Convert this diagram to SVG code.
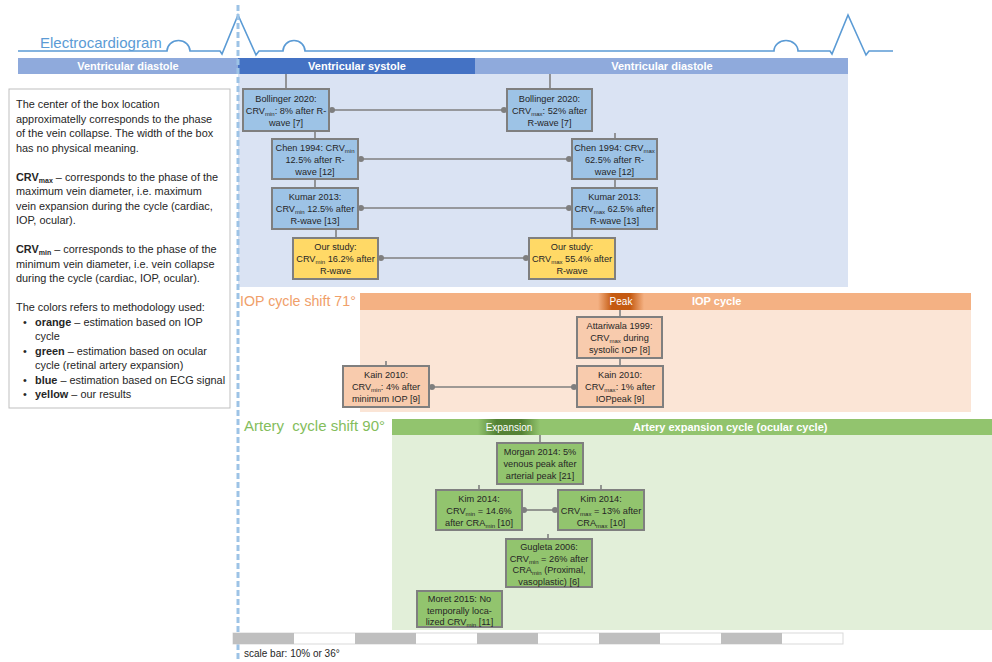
<svg xmlns="http://www.w3.org/2000/svg" width="992" height="662" viewBox="0 0 992 662">
<style>
text{font-family:"Liberation Sans",Arial,sans-serif;fill:#262626}
.bt{font-size:9.2px;text-anchor:middle}
.sub{font-size:6px}
.lt{font-size:10.9px}
.lsub{font-size:7px}
.bar{font-size:11px;font-weight:bold;fill:#fff;text-anchor:middle}
.box{stroke:#7f7f7f;stroke-width:2}
.blue{fill:#9dc3e6}.yel{fill:#ffd966}.ora{fill:#f8cbad}.grn{fill:#92c46e}
.con{stroke:#7f7f7f;stroke-width:1.6;fill:none}
.dot{fill:#7f7f7f}
</style>
<defs>
<linearGradient id="gPeak" x1="0" x2="1" y1="0" y2="0">
<stop offset="0" stop-color="#f4b183"/><stop offset="0.3" stop-color="#c55a11"/><stop offset="0.7" stop-color="#c55a11"/><stop offset="1" stop-color="#f4b183"/>
</linearGradient>
<linearGradient id="gExp" x1="0" x2="1" y1="0" y2="0">
<stop offset="0" stop-color="#92c46e"/><stop offset="0.3" stop-color="#548235"/><stop offset="0.7" stop-color="#548235"/><stop offset="1" stop-color="#92c46e"/>
</linearGradient>
</defs>
<rect width="992" height="662" fill="#fff"/>

<!-- ECG -->
<g id="ecg">
<path d="M18,51 L167,51 A11.5,10.5 0 0 1 190,51 L220,51 L222,54 L238,15 L256,55 L259,51 L283,51 A11,10.5 0 0 1 305,51 L774,51 A12,10.5 0 0 1 798,51 L830,51 L832,54 L848,15 L866,55 L869,51 L893,51" fill="none" stroke="#5b9bd5" stroke-width="1.6"/>
<text x="40" y="48" style="font-size:15px;fill:#5b9bd5">Electrocardiogram</text>
</g>

<!-- backgrounds -->
<g id="regions">
<rect x="238" y="74" width="610" height="213" fill="#dae3f3"/>
<rect x="360" y="310" width="611" height="102" fill="#fbe5d6"/>
<rect x="392" y="435" width="600" height="195" fill="#e2efd9"/>
</g>

<!-- bars -->
<g id="ecg-bars">
<rect x="18" y="58" width="220" height="16" fill="#8faadc"/>
<text class="bar" x="128" y="70">Ventricular diastole</text>
<rect x="238" y="58" width="237" height="16" fill="#4472c4"/>
<text class="bar" x="357" y="70">Ventricular systole</text>
<rect x="475" y="58" width="373" height="16" fill="#8faadc"/>
<text class="bar" x="662" y="70">Ventricular diastole</text>
</g>

<g id="iop-header">
<rect x="360" y="293" width="611" height="17" fill="#f4b183"/>
<rect x="598" y="293" width="46" height="17" fill="url(#gPeak)"/>
<text x="621" y="305" style="font-size:10px;fill:#fff;text-anchor:middle">Peak</text>
<text x="692" y="305" style="font-size:11px;font-weight:bold;fill:#fff">IOP cycle</text>
<text x="240" y="306" style="font-size:14.2px;fill:#f0a06a">IOP cycle shift 71°</text>
</g>

<g id="artery-header">
<text x="244" y="431" xml:space="preserve" style="font-size:15px;fill:#84bd5c">Artery  cycle shift 90°</text>
<rect x="392" y="419" width="600" height="16" fill="#92c46e"/>
<rect x="478" y="419" width="62" height="16" fill="url(#gExp)"/>
<text x="509" y="431" style="font-size:10px;fill:#fff;text-anchor:middle">Expansion</text>
<text x="633" y="431" style="font-size:11px;font-weight:bold;fill:#fff">Artery expansion cycle (ocular cycle)</text>
</g>

<!-- dashed R-wave line -->
<line x1="238" y1="5" x2="238" y2="662" stroke="#9dc3e6" stroke-width="3" stroke-dasharray="6 3"/>

<!-- legend box -->
<g id="legend">
<rect x="9" y="89" width="221" height="319" fill="#fff" stroke="#bfbfbf" stroke-width="1"/>
<text class="lt" x="16" y="108">The center of the box location</text>
<text class="lt" x="16" y="122.5">approximatelly corresponds to the phase</text>
<text class="lt" x="16" y="137">of the vein collapse. The width of the box</text>
<text class="lt" x="16" y="151.5">has no physical meaning.</text>
<text class="lt" x="16" y="180.5"><tspan font-weight="bold">CRV<tspan class="lsub" dy="2">max</tspan></tspan><tspan dy="-2"> – corresponds to the phase of the</tspan></text>
<text class="lt" x="16" y="195">maximum vein diameter, i.e. maximum</text>
<text class="lt" x="16" y="209.5">vein expansion during the cycle (cardiac,</text>
<text class="lt" x="16" y="224">IOP, ocular).</text>
<text class="lt" x="16" y="253"><tspan font-weight="bold">CRV<tspan class="lsub" dy="2">min</tspan></tspan><tspan dy="-2"> – corresponds to the phase of the</tspan></text>
<text class="lt" x="16" y="267.5">minimum vein diameter, i.e. vein collapse</text>
<text class="lt" x="16" y="282">during the cycle (cardiac, IOP, ocular).</text>
<text class="lt" x="16" y="311">The colors refers to methodology used:</text>
<text class="lt" x="23" y="325.5">•</text><text class="lt" x="35" y="325.5"><tspan font-weight="bold">orange</tspan> – estimation based on IOP</text>
<text class="lt" x="35" y="340">cycle</text>
<text class="lt" x="23" y="354.5">•</text><text class="lt" x="35" y="354.5"><tspan font-weight="bold">green</tspan> – estimation based on ocular</text>
<text class="lt" x="35" y="369">cycle (retinal artery expansion)</text>
<text class="lt" x="23" y="383.5">•</text><text class="lt" x="35" y="383.5"><tspan font-weight="bold">blue</tspan> – estimation based on ECG signal</text>
<text class="lt" x="23" y="398">•</text><text class="lt" x="35" y="398"><tspan font-weight="bold">yellow</tspan> – our results</text>
</g>

<!-- connectors -->
<g id="connectors">
<line class="con" x1="286" y1="74" x2="286" y2="89"/>
<line class="con" x1="315" y1="131" x2="315" y2="139"/>
<line class="con" x1="315" y1="179" x2="315" y2="188"/>
<line class="con" x1="336" y1="229" x2="336" y2="238"/>
<line class="con" x1="550" y1="74" x2="550" y2="89"/>
<line class="con" x1="615" y1="133" x2="615" y2="139"/>
<line class="con" x1="615" y1="179" x2="615" y2="188"/>
<line class="con" x1="572" y1="229" x2="572" y2="238"/>
<line class="con" x1="332" y1="110" x2="504" y2="110"/>
<line class="con" x1="361" y1="159" x2="569" y2="159"/>
<line class="con" x1="361" y1="208" x2="569" y2="208"/>
<line class="con" x1="381" y1="258" x2="526" y2="258"/>
<circle class="dot" cx="332" cy="110" r="3"/><circle class="dot" cx="504" cy="110" r="3"/>
<circle class="dot" cx="361" cy="159" r="3"/><circle class="dot" cx="569" cy="159" r="3"/>
<circle class="dot" cx="361" cy="208" r="3"/><circle class="dot" cx="569" cy="208" r="3"/>
<circle class="dot" cx="381" cy="258" r="3"/><circle class="dot" cx="526" cy="258" r="3"/>
<line class="con" x1="620" y1="310" x2="620" y2="317"/>
<line class="con" x1="620" y1="358" x2="620" y2="366"/>
<line class="con" x1="386" y1="361" x2="386" y2="366"/>
<line class="con" x1="432" y1="387" x2="574" y2="387"/>
<circle class="dot" cx="432" cy="387" r="3"/><circle class="dot" cx="574" cy="387" r="3"/>
<line class="con" x1="540" y1="435" x2="540" y2="443"/>
<line class="con" x1="479" y1="485" x2="479" y2="490"/>
<line class="con" x1="601" y1="485" x2="601" y2="490"/>
<line class="con" x1="548" y1="534" x2="548" y2="539"/>
<line class="con" x1="524" y1="510" x2="555" y2="510"/>
<circle class="dot" cx="524" cy="510" r="3"/><circle class="dot" cx="555" cy="510" r="3"/>
</g>

<!-- ECG nodes -->
<g id="bollinger-min"><rect class="box blue" x="243" y="89" width="86" height="42"/>
<text class="bt" x="286" y="102">Bollinger 2020:</text>
<text class="bt" x="286" y="114">CRV<tspan class="sub" dy="2">min</tspan><tspan dy="-2">: 8% after R-</tspan></text>
<text class="bt" x="286" y="126">wave [7]</text></g>
<g id="chen-min"><rect class="box blue" x="272" y="139" width="86" height="40"/>
<text class="bt" x="315" y="151">Chen 1994: CRV<tspan class="sub" dy="2">min</tspan></text>
<text class="bt" x="315" y="163">12.5% after R-</text>
<text class="bt" x="315" y="175">wave [12]</text></g>
<g id="kumar-min"><rect class="box blue" x="272" y="188" width="86" height="41"/>
<text class="bt" x="315" y="200">Kumar 2013:</text>
<text class="bt" x="315" y="212">CRV<tspan class="sub" dy="2">min</tspan><tspan dy="-2"> 12.5% after</tspan></text>
<text class="bt" x="315" y="224">R-wave [13]</text></g>
<g id="our-min"><rect class="box yel" x="293" y="238" width="85" height="41"/>
<text class="bt" x="335.5" y="250">Our study:</text>
<text class="bt" x="335.5" y="262">CRV<tspan class="sub" dy="2">min</tspan><tspan dy="-2"> 16.2% after</tspan></text>
<text class="bt" x="335.5" y="274">R-wave</text></g>
<g id="bollinger-max"><rect class="box blue" x="507" y="89" width="85" height="42"/>
<text class="bt" x="549.5" y="102">Bollinger 2020:</text>
<text class="bt" x="549.5" y="114">CRV<tspan class="sub" dy="2">max</tspan><tspan dy="-2">: 52% after</tspan></text>
<text class="bt" x="549.5" y="126">R-wave [7]</text></g>
<g id="chen-max"><rect class="box blue" x="572" y="139" width="85" height="40"/>
<text class="bt" x="614.5" y="151">Chen 1994: CRV<tspan class="sub" dy="2">max</tspan></text>
<text class="bt" x="614.5" y="163">62.5% after R-</text>
<text class="bt" x="614.5" y="175">wave [12]</text></g>
<g id="kumar-max"><rect class="box blue" x="572" y="188" width="85" height="41"/>
<text class="bt" x="614.5" y="200">Kumar 2013:</text>
<text class="bt" x="614.5" y="212">CRV<tspan class="sub" dy="2">max</tspan><tspan dy="-2"> 62.5% after</tspan></text>
<text class="bt" x="614.5" y="224">R-wave [13]</text></g>
<g id="our-max"><rect class="box yel" x="529" y="238" width="86" height="41"/>
<text class="bt" x="572" y="250">Our study:</text>
<text class="bt" x="572" y="262">CRV<tspan class="sub" dy="2">max</tspan><tspan dy="-2"> 55.4% after</tspan></text>
<text class="bt" x="572" y="274">R-wave</text></g>

<!-- IOP nodes -->
<g id="attariwala"><rect class="box ora" x="577" y="317" width="85" height="41"/>
<text class="bt" x="619.5" y="329">Attariwala 1999:</text>
<text class="bt" x="619.5" y="341">CRV<tspan class="sub" dy="2">max</tspan><tspan dy="-2"> during</tspan></text>
<text class="bt" x="619.5" y="353">systolic IOP [8]</text></g>
<g id="kain-min"><rect class="box ora" x="343" y="366" width="86" height="41"/>
<text class="bt" x="386" y="378">Kain 2010:</text>
<text class="bt" x="386" y="390">CRV<tspan class="sub" dy="2">min</tspan><tspan dy="-2">: 4% after</tspan></text>
<text class="bt" x="386" y="402">minimum IOP [9]</text></g>
<g id="kain-max"><rect class="box ora" x="577" y="366" width="86" height="41"/>
<text class="bt" x="620" y="378">Kain 2010:</text>
<text class="bt" x="620" y="390">CRV<tspan class="sub" dy="2">max</tspan><tspan dy="-2">: 1% after</tspan></text>
<text class="bt" x="620" y="402">IOPpeak [9]</text></g>

<!-- ocular nodes -->
<g id="morgan"><rect class="box grn" x="497" y="443" width="86" height="41"/>
<text class="bt" x="540" y="455">Morgan 2014: 5%</text>
<text class="bt" x="540" y="467">venous peak after</text>
<text class="bt" x="540" y="479">arterial peak [21]</text></g>
<g id="kim-min"><rect class="box grn" x="436" y="490" width="86" height="40"/>
<text class="bt" x="479" y="502">Kim 2014:</text>
<text class="bt" x="479" y="514">CRV<tspan class="sub" dy="2">min</tspan><tspan dy="-2"> = 14.6%</tspan></text>
<text class="bt" x="479" y="526">after CRA<tspan class="sub" dy="2">min</tspan><tspan dy="-2"> [10]</tspan></text></g>
<g id="kim-max"><rect class="box grn" x="558" y="490" width="86" height="40"/>
<text class="bt" x="601" y="502">Kim 2014:</text>
<text class="bt" x="601" y="514">CRV<tspan class="sub" dy="2">max</tspan><tspan dy="-2"> = 13% after</tspan></text>
<text class="bt" x="601" y="526">CRA<tspan class="sub" dy="2">max</tspan><tspan dy="-2"> [10]</tspan></text></g>
<g id="gugleta"><rect class="box grn" x="506" y="539" width="86" height="48"/>
<text class="bt" x="549" y="550">Gugleta 2006:</text>
<text class="bt" x="549" y="561.5">CRV<tspan class="sub" dy="2">min</tspan><tspan dy="-2"> = 26% after</tspan></text>
<text class="bt" x="549" y="573">CRA<tspan class="sub" dy="2">min</tspan><tspan dy="-2"> (Proximal,</tspan></text>
<text class="bt" x="549" y="584.5">vasoplastic) [6]</text></g>
<g id="moret"><rect class="box grn" x="417" y="591" width="85" height="36"/>
<text class="bt" x="459.5" y="602">Moret 2015: No</text>
<text class="bt" x="459.5" y="613.5">temporally loca-</text>
<text class="bt" x="459.5" y="625">lized CRV<tspan class="sub" dy="2">min</tspan><tspan dy="-2"> [11]</tspan></text></g>

<!-- scale bar -->
<g id="scale-bar">
<rect x="233" y="633" width="610" height="11" fill="#fff" stroke="#d9d9d9" stroke-width="1"/>
<rect x="233" y="633" width="61" height="11" fill="#bfbfbf"/>
<rect x="355" y="633" width="61" height="11" fill="#bfbfbf"/>
<rect x="477" y="633" width="61" height="11" fill="#bfbfbf"/>
<rect x="599" y="633" width="61" height="11" fill="#bfbfbf"/>
<rect x="721" y="633" width="61" height="11" fill="#bfbfbf"/>
<text x="244" y="657" style="font-size:10px">scale bar: 10% or 36°</text>
</g>
</svg>
